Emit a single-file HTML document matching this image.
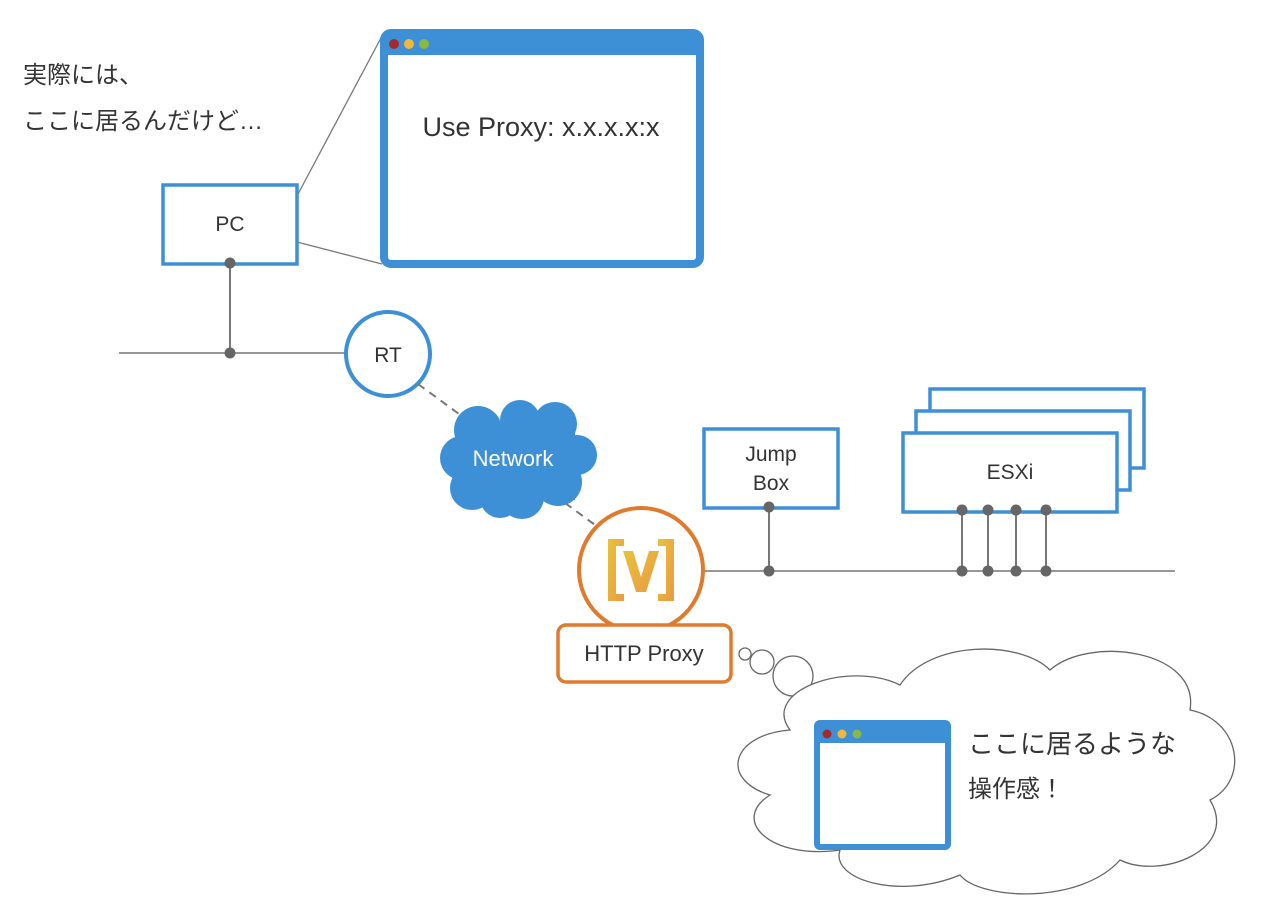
<!DOCTYPE html>
<html><head><meta charset="utf-8"><style>body{margin:0;background:#fff}svg{display:block}text{font-family:"Liberation Sans","Noto Sans CJK JP",sans-serif;fill:#333}</style></head>
<body>
<svg width="1270" height="910" viewBox="0 0 1270 910" xmlns="http://www.w3.org/2000/svg">
<text x="23" y="83" font-size="24">実際には、</text>
<text x="23" y="129" font-size="24">ここに居るんだけど…</text>
<!-- PC -->
<line x1="297" y1="196" x2="382" y2="36" stroke="#777" stroke-width="1.3"/>
<line x1="297" y1="242" x2="382" y2="264" stroke="#777" stroke-width="1.3"/>
<rect x="163" y="185" width="134" height="79" fill="#fff" stroke="#3d8fd6" stroke-width="3.5"/>
<text x="230" y="231" font-size="21" text-anchor="middle">PC</text>
<!-- browser -->
<rect x="384" y="33" width="316" height="231" rx="7" fill="#fff" stroke="#3d8fd6" stroke-width="8"/>
<rect x="384" y="33" width="316" height="22" fill="#3d8fd6"/>
<circle cx="394" cy="44" r="5" fill="#a52b2b"/><circle cx="409" cy="44" r="5" fill="#f0b83a"/><circle cx="424" cy="44" r="5" fill="#8ab845"/>
<text x="541" y="136" font-size="27" text-anchor="middle">Use Proxy: x.x.x.x:x</text>
<!-- lines -->
<line x1="230" y1="263" x2="230" y2="353" stroke="#777" stroke-width="2"/>
<line x1="119" y1="353" x2="345" y2="353" stroke="#777" stroke-width="1.5"/>
<circle cx="230" cy="263" r="5.5" fill="#666"/><circle cx="230" cy="353" r="5.5" fill="#666"/>
<circle cx="388" cy="354" r="42" fill="#fff" stroke="#3d8fd6" stroke-width="4"/>
<text x="388" y="362" font-size="21" text-anchor="middle">RT</text>
<line x1="418" y1="384" x2="470" y2="422" stroke="#777" stroke-width="2" stroke-dasharray="8,6"/>
<line x1="565" y1="503" x2="602" y2="530" stroke="#777" stroke-width="2" stroke-dasharray="8,6"/>
<!-- Network cloud -->
<g fill="#3d8fd6">
<circle cx="478" cy="430" r="24"/><circle cx="520" cy="420" r="20"/><circle cx="555" cy="424" r="22"/><circle cx="577" cy="455" r="20"/>
<circle cx="462" cy="458" r="22"/><circle cx="472" cy="488" r="22"/><circle cx="500" cy="498" r="20"/><circle cx="522" cy="497" r="22"/><circle cx="558" cy="482" r="24"/>
<rect x="465" y="425" width="110" height="75"/>
</g>
<text x="513" y="466" font-size="22" text-anchor="middle" style="fill:#fff">Network</text>
<!-- main line -->
<line x1="704" y1="571" x2="1175" y2="571" stroke="#777" stroke-width="1.5"/>
<line x1="769" y1="507" x2="769" y2="571" stroke="#777" stroke-width="2"/>
<g stroke="#777" stroke-width="2"><line x1="962" y1="510" x2="962" y2="571"/><line x1="988" y1="510" x2="988" y2="571"/><line x1="1016" y1="510" x2="1016" y2="571"/><line x1="1046" y1="510" x2="1046" y2="571"/></g>
<rect x="704" y="429" width="134" height="79" fill="#fff" stroke="#3d8fd6" stroke-width="3.5"/>
<text x="771" y="461" font-size="21" text-anchor="middle">Jump</text>
<text x="771" y="490" font-size="21" text-anchor="middle">Box</text>
<rect x="930" y="389" width="214" height="79" fill="#fff" stroke="#3d8fd6" stroke-width="3.5"/>
<rect x="916" y="411" width="214" height="79" fill="#fff" stroke="#3d8fd6" stroke-width="3.5"/>
<rect x="903" y="433" width="214" height="79" fill="#fff" stroke="#3d8fd6" stroke-width="3.5"/>
<text x="1010" y="479" font-size="21" text-anchor="middle">ESXi</text>
<g fill="#666"><circle cx="769" cy="507" r="5.5"/><circle cx="769" cy="571" r="5.5"/>
<circle cx="962" cy="510" r="5.5"/><circle cx="988" cy="510" r="5.5"/><circle cx="1016" cy="510" r="5.5"/><circle cx="1046" cy="510" r="5.5"/>
<circle cx="962" cy="571" r="5.5"/><circle cx="988" cy="571" r="5.5"/><circle cx="1016" cy="571" r="5.5"/><circle cx="1046" cy="571" r="5.5"/></g>
<!-- proxy -->
<circle cx="641" cy="570" r="62" fill="#fff" stroke="#e07b2e" stroke-width="4"/>
<defs><linearGradient id="g" x1="0" y1="0" x2="1" y2="1"><stop offset="0" stop-color="#e8c23a"/><stop offset="1" stop-color="#e99a45"/></linearGradient></defs>
<g fill="url(#g)">
<path d="M608 539h16v7h-8v48h8v7h-16z"/>
<path d="M674 539h-16v7h8v48h-8v7h16z"/>
<path d="M623 551h10l8 26 8-26h10l-13 41h-10z"/>
</g>
<rect x="558" y="625" width="173" height="57" rx="8" fill="#fff" stroke="#e07b2e" stroke-width="3.5"/>
<text x="644" y="661" font-size="22" text-anchor="middle">HTTP Proxy</text>
<!-- thought cloud -->
<g fill="#fff" stroke="#666" stroke-width="1.3">
<circle cx="745" cy="654" r="6"/><circle cx="762" cy="662" r="12"/><circle cx="793" cy="676" r="20"/>
</g>
<path d="M790 730 C 760 690, 850 660, 900 685 C 930 640, 1020 640, 1050 670 C 1090 635, 1200 650, 1190 710 C 1240 720, 1250 780, 1210 800 C 1240 850, 1160 880, 1120 860 C 1080 905, 980 900, 960 875 C 900 900, 830 880, 840 850 C 770 860, 730 820, 770 795 C 720 780, 730 735, 790 730 Z" fill="#fff" stroke="#666" stroke-width="1.3"/>
<rect x="817" y="723" width="131" height="124" rx="3" fill="#fff" stroke="#3d8fd6" stroke-width="6"/>
<rect x="817" y="723" width="131" height="20" fill="#3d8fd6"/>
<circle cx="827" cy="734" r="4.5" fill="#a52b2b"/><circle cx="842" cy="734" r="4.5" fill="#f0b83a"/><circle cx="857" cy="734" r="4.5" fill="#8ab845"/>
<text x="968" y="753" font-size="26">ここに居るような</text>
<text x="968" y="797" font-size="24">操作感！</text>
</svg>
</body></html>
